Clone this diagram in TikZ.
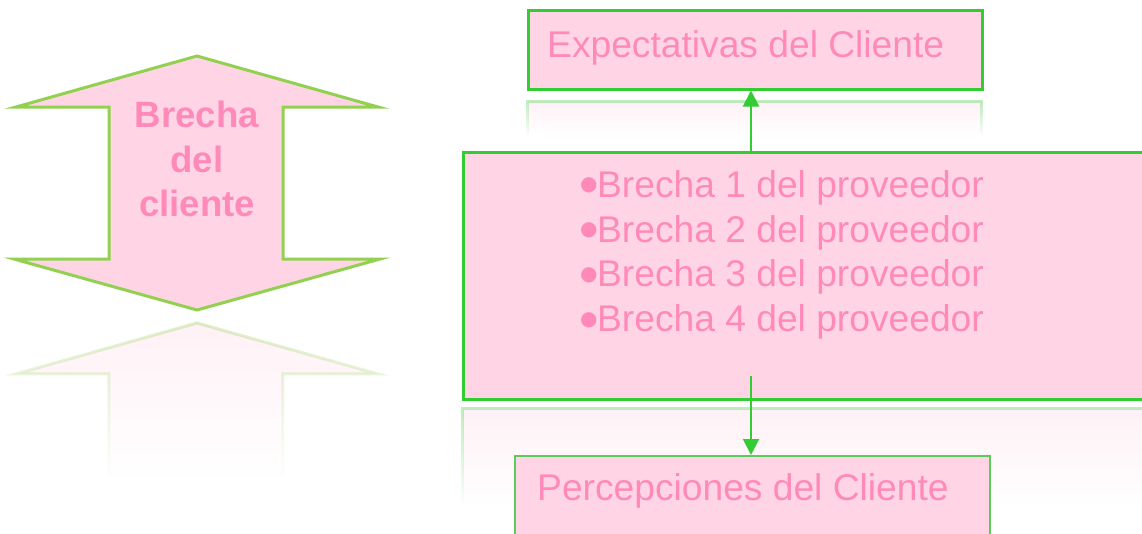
\documentclass[tikz,border=0pt]{standalone}
\usepackage{fontspec}
\setmainfont{Liberation Sans}
\newfontfamily\dejavu{DejaVu Sans}
\usetikzlibrary{arrows.meta,fadings}
\definecolor{pinkfill}{HTML}{FFD5E6}
\definecolor{pinktext}{HTML}{FF8AB9}
\definecolor{boxgreen}{HTML}{33CC33}
\definecolor{lightgreen}{HTML}{92D050}
\definecolor{botgreen}{HTML}{5CCB5C}
\tikzfading[name=reflfade, top color=transparent!68, bottom color=transparent!100]
\newcommand{\bigbul}{\raisebox{6.5pt}{\dejavu\fontsize{20}{24}\selectfont ●}\kern-0.5pt}
\begin{document}
\begin{tikzpicture}[x=1pt,y=-1pt,
  box/.style={draw=boxgreen, line width=3pt, fill=pinkfill, inner sep=0pt},
  lbl/.style={text=pinktext, font=\fontsize{37.2}{44}\selectfont, inner sep=0pt, anchor=base west},
  blbl/.style={text=pinktext, font=\fontsize{36.6}{44}\selectfont\bfseries, inner sep=0pt, anchor=base},
  arr/.style={draw=boxgreen, line width=2pt, -{Triangle[width=16pt,length=16pt]}, fill=boxgreen},
  refl/.style={fill=pinkfill, path fading=reflfade},
  bigarrow/.style={draw=lightgreen, line width=3pt, fill=pinkfill, line join=miter}]
\useasboundingbox (0,0) rectangle (1142,533);
\clip (0,0) rectangle (1142,533);
\fill[white] (0,0) rectangle (1142,533);

% reflections
\path[refl, draw=lightgreen, line width=3pt] (197,323) -- (378,374) -- (283,374) -- (283,475) -- (109,475) -- (109,374) -- (16,374) -- cycle;
\path[refl, draw=boxgreen, line width=3pt] (528,135) -- (528,101) -- (982,101) -- (982,135);
\path[refl, draw=boxgreen, line width=3pt] (463,505) -- (463,409) -- (1150,409) -- (1150,505);

% double arrow
\draw[bigarrow] (197,56) -- (378,107) -- (283,107) -- (283,259) -- (380,259) -- (197,310) -- (14,259) -- (109,259) -- (109,107) -- (16,107) -- cycle;
\node[blbl] (b1) at (197,127) {Brecha};
\node[blbl] (b2) at (197,172) {del};
\node[blbl] (b3) at (197,216) {cliente};

% boxes
\node[box, minimum width=454pt, minimum height=79pt] (top) at (755,49.5) {};
\node[box, minimum width=687pt, minimum height=247pt] (mid) at (806.5,275.5) {};
\node[box, draw=botgreen, line width=2pt, minimum width=475pt, minimum height=89pt] (bot) at (752.5,500.5) {};

\node[lbl] (t1) at (547,57) {Expectativas del Cliente};
\node[lbl] (m1) at (580,197.3) {\bigbul Brecha 1 del proveedor};
\node[lbl] (m2) at (580,242.3) {\bigbul Brecha 2 del proveedor};
\node[lbl] (m3) at (580,286.9) {\bigbul Brecha 3 del proveedor};
\node[lbl] (m4) at (580,331.7) {\bigbul Brecha 4 del proveedor};
\node[lbl] (p1) at (537,500.7) {Percepciones del Cliente};

% connectors
\coordinate (ax) at (751,0);
\coordinate (bstart) at (751,376);
\draw[arr] (mid.north -| ax) -- (top.south -| ax);
\draw[arr] (bstart) -- (bot.north -| ax);
\end{tikzpicture}
\end{document}
